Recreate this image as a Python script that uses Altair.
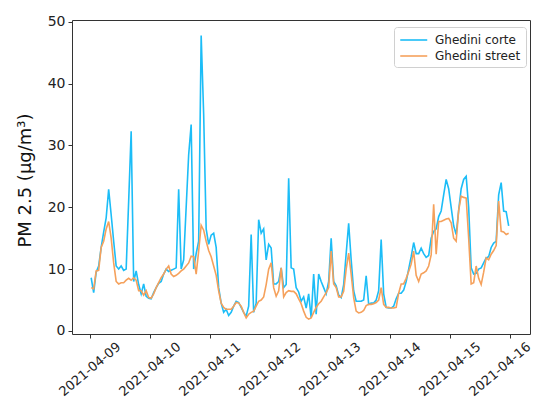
import altair as alt
import pandas as pd

series_names = ["Ghedini corte", "Ghedini street"]
series_colors = ["#1CBDF7", "#F5A15C"]
start_time = "2021-04-09T00:40:00"
y_ticks = [0, 10, 20, 30, 40, 50]
x_tick_days = [9, 10, 11, 12, 13, 14, 15, 16]

corte = [
    # 2021-04-09
    8.6, 6.2, 9.5, 10.5, 13.5, 16.0, 18.3, 22.9, 18.8, 14.5, 10.5, 10.0,
    10.5, 9.8, 10.0, 21.0, 32.3, 8.0, 9.7, 7.5, 6.0, 7.6, 5.6, 5.3,
    # 2021-04-10
    5.2, 6.2, 7.0, 7.7, 8.0, 9.2, 10.0, 9.6, 9.8, 10.0, 10.2, 22.9,
    10.0, 11.5, 20.0, 28.5, 33.4, 10.0, 12.5, 14.5, 47.8, 35.0, 16.5, 14.0,
    # 2021-04-11
    15.5, 15.8, 13.5, 7.0, 4.5, 3.0, 3.5, 2.5, 3.0, 4.0, 4.8, 4.6,
    3.8, 3.0, 2.4, 4.0, 15.6, 3.0, 4.5, 18.0, 15.8, 16.5, 11.5, 14.0,
    # 2021-04-12
    13.4, 7.6, 7.6, 8.0, 10.2, 7.0, 7.5, 24.7, 10.2, 10.0, 7.0, 6.3,
    4.8, 5.5, 3.7, 6.0, 2.1, 9.2, 2.7, 9.2, 8.0, 7.0, 6.0, 8.0,
    # 2021-04-13
    15.0, 8.0, 7.3, 5.8, 5.4, 7.5, 12.5, 17.4, 11.5, 6.5, 4.8, 4.8,
    4.8, 5.0, 8.9, 4.3, 4.5, 4.5, 5.0, 6.5, 14.8, 6.0, 3.8, 3.7,
    # 2021-04-14
    3.7, 4.0, 5.2, 6.1, 6.1, 6.6, 8.0, 10.0, 12.0, 14.3, 12.5, 12.5,
    13.4, 12.5, 11.9, 12.2, 15.0, 16.1, 16.5, 18.5, 19.4, 22.0, 24.5, 23.0,
    # 2021-04-15
    20.0, 17.0, 15.6, 19.5, 23.0, 24.5, 25.0, 20.0, 10.2, 9.2, 9.3, 10.0,
    10.2, 11.0, 11.8, 12.0, 13.5, 14.2, 14.5, 22.0, 24.0, 19.4, 19.3, 17.0,
]

street = [
    # 2021-04-09
    7.0, 6.8, 9.7, 9.8, 13.5, 14.5, 16.5, 17.7, 15.0, 11.0, 8.0, 7.6,
    7.8, 7.8, 8.2, 8.5, 8.2, 8.6, 8.2, 6.5, 6.5, 5.8, 6.5, 5.4,
    # 2021-04-10
    5.3, 6.0, 7.0, 7.8, 8.6, 9.2, 10.0, 10.5, 9.2, 8.8, 9.0, 9.3,
    9.7, 10.0, 10.5, 11.0, 12.1, 12.0, 9.2, 12.9, 17.1, 16.3, 14.5, 13.0,
    # 2021-04-11
    12.0, 10.5, 9.0, 6.5, 4.5, 3.8, 3.5, 3.5, 3.5, 4.0, 4.6, 4.5,
    4.0, 3.0, 2.1, 2.7, 3.0, 3.2, 4.0, 4.8, 5.0, 5.5, 7.5, 10.0,
    # 2021-04-12
    11.0, 7.0, 5.6, 6.5, 10.2, 5.5, 6.2, 6.5, 6.4, 6.4, 6.0, 5.2,
    4.4, 3.2, 2.2, 1.9, 2.1, 3.0, 3.8, 4.4, 4.8, 5.5, 6.2, 7.0,
    # 2021-04-13
    12.9, 7.6, 7.0, 5.5, 5.5, 6.4, 10.0, 12.6, 9.2, 5.4, 3.2, 2.9,
    3.0, 3.3, 4.1, 4.3, 4.3, 4.4, 4.6, 5.0, 7.0, 4.3, 3.8, 3.8,
    # 2021-04-14
    3.7, 3.7, 3.8, 6.1, 7.6, 7.6, 8.5, 9.6, 10.8, 12.9, 9.0, 8.0,
    9.2, 9.4, 9.7, 10.5, 12.3, 20.5, 12.4, 17.7, 17.7, 17.9, 18.1, 18.2,
    # 2021-04-15
    17.5, 15.0, 14.5, 19.5, 21.8, 21.6, 21.5, 15.0, 7.6, 7.8, 10.5, 8.5,
    7.5, 9.5, 11.8, 11.5, 12.4, 13.0, 13.8, 21.0, 16.1, 16.0, 15.6, 15.8,
]

times = pd.date_range(start_time, periods=len(corte), freq="h")
rows = []
for name, vals in zip(series_names, [corte, street]):
    for t, v in zip(times, vals):
        rows.append({"time": t.strftime("%Y-%m-%dT%H:%M:%SZ"), "series": name, "pm": v})
df = pd.DataFrame(rows)

font = "DejaVu Sans"

x_scale = alt.Scale(
    type="utc",
    domain=[
        alt.DateTime(year=2021, month=4, date=8, hours=17, utc=True),
        alt.DateTime(year=2021, month=4, date=16, hours=8, minutes=12, utc=True),
    ],
)

chart = (
    alt.Chart(df)
    .mark_line(strokeWidth=1.6, clip=True)
    .encode(
        x=alt.X(
            "time:T",
            scale=x_scale,
            axis=alt.Axis(
                title=None,
                values=[alt.DateTime(year=2021, month=4, date=d, utc=True) for d in x_tick_days],
                format="%Y-%m-%d",
                labelAngle=-40,
                labelAlign="center",
                labelBaseline="middle",
                labelFontSize=13,
                labelPadding=31,
                labelOverlap=False,
                labelBound=False,
                labelFlush=False,
                labelOffset={"condition": {"test": "datum.index > 0.99", "value": -10}, "value": 0},
            ),
        ),
        y=alt.Y(
            "pm:Q",
            scale=alt.Scale(domain=[-0.5, 50.3], nice=False, zero=False),
            axis=alt.Axis(
                values=y_ticks,
                title="PM 2.5 (μg/m³)",
                titleFontSize=18,
                titleFont=font,
                titleFontWeight="normal",
                titleColor="#111",
                titleX=-47,
                titleY=160,
                titleAngle=-90,
                titleAlign="center",
                titleBaseline="middle",
                labelPadding=3,
            ),
        ),
        color=alt.Color(
            "series:N",
            scale=alt.Scale(domain=series_names, range=series_colors),
            legend=alt.Legend(
                title=None,
                orient="none",
                legendX=322,
                legendY=7,
                symbolType="M-1,0L3,0",
                symbolSize=182,
                symbolStrokeWidth=1.6,
                symbolFillColor="transparent",
                labelFont=font,
                labelFontSize=12,
                labelColor="#222",
                labelOffset=20,
                padding=5,
                rowPadding=2,
                strokeColor="#d0d0d0",
                fillColor="white",
                cornerRadius=3,
            ),
        ),
    )
    .properties(
        width=458,
        height=314,
        autosize=alt.AutoSizeParams(type="none"),
        padding={"left": 64, "top": 12, "right": 2, "bottom": 65},
    )
    .configure_view(stroke="#333", strokeWidth=1)
    .configure_axis(
        grid=False,
        domain=False,
        labelFont=font,
        labelFontSize=14,
        labelColor="#222",
        tickColor="#333",
        tickSize=4,
        tickWidth=1,
    )
)

chart.save("out.html", embed_options={"renderer": "svg", "actions": False})
